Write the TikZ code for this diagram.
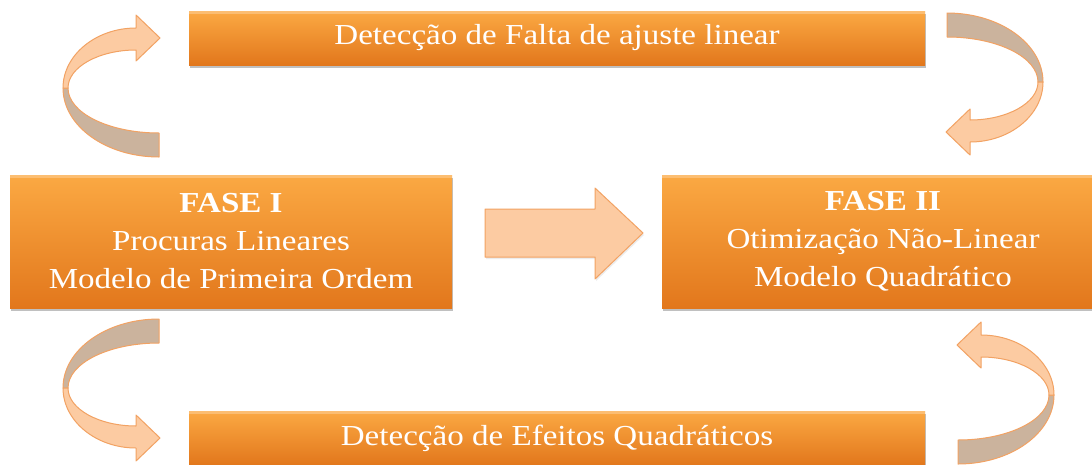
\documentclass[tikz,border=0pt]{standalone}
\usepackage{fontspec}
\newfontfamily\dfont[FakeStretch=1.14]{Liberation Serif}
\usetikzlibrary{shadows}
\definecolor{otop}{HTML}{FBA943}
\definecolor{omid}{HTML}{F7952E}
\definecolor{obot}{HTML}{E2771C}
\definecolor{peach}{HTML}{FCCBA2}
\definecolor{peachline}{HTML}{F2A263}
\definecolor{tan}{HTML}{CBB39D}
\tikzset{
  obox/.style={rectangle, inner sep=0pt, top color=otop, middle color=omid, bottom color=obot,
    drop shadow={shadow xshift=1pt, shadow yshift=-3pt, opacity=0.35, fill=black!70},
    text=white, align=center, font=\dfont\fontsize{29}{38}\selectfont,
    path picture={\fill[white, opacity=0.25] (path picture bounding box.north west) rectangle ([yshift=-3pt]path picture bounding box.north east);}},
  lightband/.style={fill=peach, draw=peachline, line width=1pt, line join=round},
  darkband/.style={fill=tan, draw=peachline, line width=1pt, line join=round}
}
\newcommand\mycurvedarrow{%
  \path[darkband] (63,88) .. controls (63,126) and (106,157) .. (159,157) -- (159,133)
     .. controls (109,133) and (68,113) .. (68,88) -- cycle;
  \path[lightband] (63,88) .. controls (63,55) and (96,28) .. (136,28) -- (136,15) -- (160,38)
     -- (136,61) -- (136,50) .. controls (99,50) and (68,67) .. (68,88) -- cycle;
}
\begin{document}
\begin{tikzpicture}[x=1pt,y=-1pt]
\useasboundingbox (0,0) rectangle (1092,464);
\fill[white] (0,0) rectangle (1092,464);
\begin{scope}
\clip (0,0) rectangle (1092,464);
\node[obox, minimum width=736pt, minimum height=54pt] (top) at (557,38) {Detecção de Falta de ajuste linear};
\node[obox, minimum width=442pt, minimum height=133pt] (f1) at (231,241.5) {\textbf{FASE I}\\Procuras Lineares\\Modelo de Primeira Ordem};
\node[obox, minimum width=442pt, minimum height=133pt] (f2) at (883,241.5) {\textbf{FASE II}\\Otimização Não-Linear\\Modelo Quadrático};
\node[obox, minimum width=736pt, minimum height=54pt] (bot) at (557,438) {Detecção de Efeitos Quadráticos};
% middle block arrow
\path[lightband, drop shadow={shadow xshift=1pt, shadow yshift=-2pt, opacity=0.15}]
  (485,209) -- (595,209) -- (595,188) -- (643,233) -- (595,279) -- (595,257) -- (485,257) -- cycle;
% curved arrows
\begin{scope}\mycurvedarrow\end{scope}
\begin{scope}[shift={(1106,170)}, xscale=-1, yscale=-1]\mycurvedarrow\end{scope}
\begin{scope}[shift={(0,476)}, yscale=-1]\mycurvedarrow\end{scope}
\begin{scope}[shift={(1117,307)}, xscale=-1]\mycurvedarrow\end{scope}
\end{scope}
\end{tikzpicture}
\end{document}
